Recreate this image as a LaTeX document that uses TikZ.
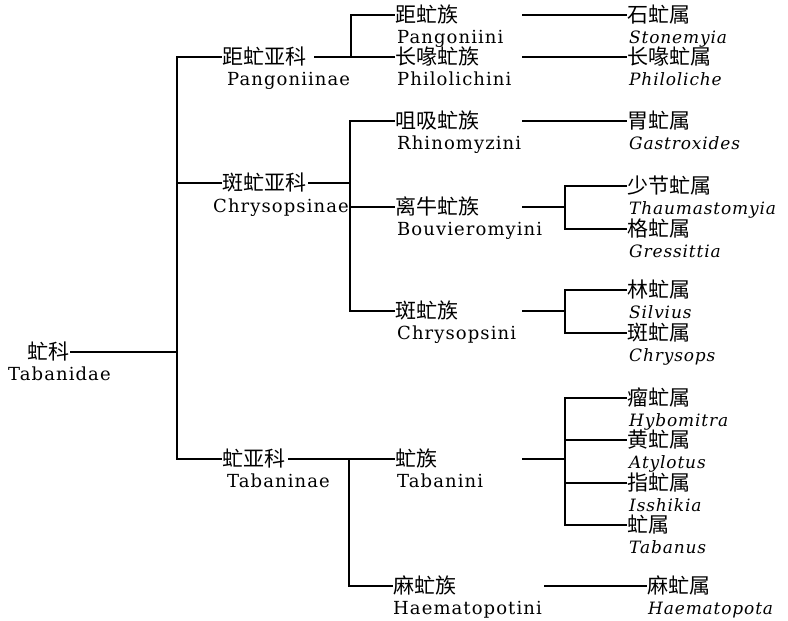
\documentclass[tikz,border=0pt]{standalone}
\usepackage{fontspec}
\newfontfamily\cjk{Noto Sans CJK SC}
\newfontfamily\lat{DejaVu Serif}[LetterSpace=6]
\newfontfamily\latit{DejaVu Serif}[LetterSpace=5]
\begin{document}
\begin{tikzpicture}[x=1pt,y=-1pt,
  cn/.style={font=\cjk\fontsize{21}{21}\selectfont, inner ysep=0pt, inner xsep=1pt,
             text height=18pt, text depth=2.5pt, anchor=west},
  la/.style={font=\lat\fontsize{18}{18}\selectfont, inner sep=0pt, anchor=base west},
  ge/.style={font=\latit\itshape\fontsize{17}{17}\selectfont, inner sep=0pt, anchor=base west},
  br/.style={line width=1.1pt, line cap=rect}]
\useasboundingbox (0,0) rectangle (788,621);
% family
\node[cn, anchor=east] (fam) at (71,352) {虻科};
\node[la] (famL) at (8,380) {Tabanidae};
% subfamilies
\node[cn] (s1) at (221,57) {距虻亚科};
\node[la] (s1L) at (227,85) {Pangoniinae};
\node[cn] (s2) at (221,183) {斑虻亚科};
\node[la] (s2L) at (213,212) {Chrysopsinae};
\node[cn] (s3) at (221,459) {虻亚科};
\node[la] (s3L) at (227,487) {Tabaninae};
% tribes
\node[cn] (t1) at (394,15) {距虻族};
\node[la] (t1L) at (397,43) {Pangoniini};
\node[cn] (t2) at (394,57) {长喙虻族};
\node[la] (t2L) at (397,85) {Philolichini};
\node[cn] (t3) at (394,121) {咀吸虻族};
\node[la] (t3L) at (397,149) {Rhinomyzini};
\node[cn] (t4) at (394,207) {离牛虻族};
\node[la] (t4L) at (397,235) {Bouvieromyini};
\node[cn] (t5) at (394,311) {斑虻族};
\node[la] (t5L) at (397,339) {Chrysopsini};
\node[cn] (t6) at (394,459) {虻族};
\node[la] (t6L) at (397,487) {Tabanini};
\node[cn] (t7) at (392,586) {麻虻族};
\node[la] (t7L) at (393,614) {Haematopotini};
% genera
\node[cn] (g1) at (626,15) {石虻属};
\node[ge] (g1L) at (629,43) {Stonemyia};
\node[cn] (g2) at (626,57) {长喙虻属};
\node[ge] (g2L) at (629,85) {Philoliche};
\node[cn] (g3) at (626,121) {胃虻属};
\node[ge] (g3L) at (629,149) {Gastroxides};
\node[cn] (g4) at (626,186) {少节虻属};
\node[ge] (g4L) at (629,214) {Thaumastomyia};
\node[cn] (g5) at (626,229) {格虻属};
\node[ge] (g5L) at (629,257) {Gressittia};
\node[cn] (g6) at (626,290) {林虻属};
\node[ge] (g6L) at (629,318) {Silvius};
\node[cn] (g7) at (626,333) {斑虻属};
\node[ge] (g7L) at (629,361) {Chrysops};
\node[cn] (g8) at (626,398) {瘤虻属};
\node[ge] (g8L) at (629,426) {Hybomitra};
\node[cn] (g9) at (626,440) {黄虻属};
\node[ge] (g9L) at (629,468) {Atylotus};
\node[cn] (g10) at (626,483) {指虻属};
\node[ge] (g10L) at (629,511) {Isshikia};
\node[cn] (g11) at (626,525) {虻属};
\node[ge] (g11L) at (629,553) {Tabanus};
\node[cn] (g12) at (646,586) {麻虻属};
\node[ge] (g12L) at (648,614) {Haematopota};
% junction columns
\coordinate (b0) at (177,0);
\coordinate (b1) at (351,0);
\coordinate (b2) at (350,0);
\coordinate (b3) at (349,0);
\coordinate (c1) at (523,0);
\coordinate (c2) at (565,0);
\coordinate (c3) at (545,0);
% family to subfamilies
\draw[br] (fam.east) -- (fam.east -| b0);
\draw[br] (s1.west) -- (s1.west -| b0) -- (s3.west -| b0) -- (s3.west);
\draw[br] (s2.west) -- (s2.west -| b0);
% Pangoniinae
\draw[br] ([xshift=7pt]s1.east) -- (t2.west);
\draw[br] (t1.west) -- (t1.west -| b1) -- (t2.west -| b1);
% Chrysopsinae
\draw[br] ([xshift=1pt]s2.east) -- (s2.east -| b2);
\draw[br] (t3.west) -- (t3.west -| b2) -- (t5.west -| b2) -- (t5.west);
\draw[br] (t4.west) -- (t4.west -| b2);
% Tabaninae
\draw[br] ([xshift=2pt]s3.east) -- (t6.west);
\draw[br] (t6.west -| b3) -- (t7.west -| b3) -- (t7.west);
% tribes to genera
\draw[br] (t1.west -| c1) -- (g1.west);
\draw[br] (t2.west -| c1) -- (g2.west);
\draw[br] (t3.west -| c1) -- (g3.west);
\draw[br] (t4.west -| c1) -- (t4.west -| c2);
\draw[br] (g4.west) -- (g4.west -| c2) -- (g5.west -| c2) -- (g5.west);
\draw[br] (t5.west -| c1) -- (t5.west -| c2);
\draw[br] (g6.west) -- (g6.west -| c2) -- (g7.west -| c2) -- (g7.west);
\draw[br] (t6.west -| c1) -- (t6.west -| c2);
\draw[br] (g8.west) -- (g8.west -| c2) -- (g11.west -| c2) -- (g11.west);
\draw[br] (g9.west) -- (g9.west -| c2);
\draw[br] (g10.west) -- (g10.west -| c2);
\draw[br] (t7.west -| c3) -- (g12.west);
\end{tikzpicture}
\end{document}
